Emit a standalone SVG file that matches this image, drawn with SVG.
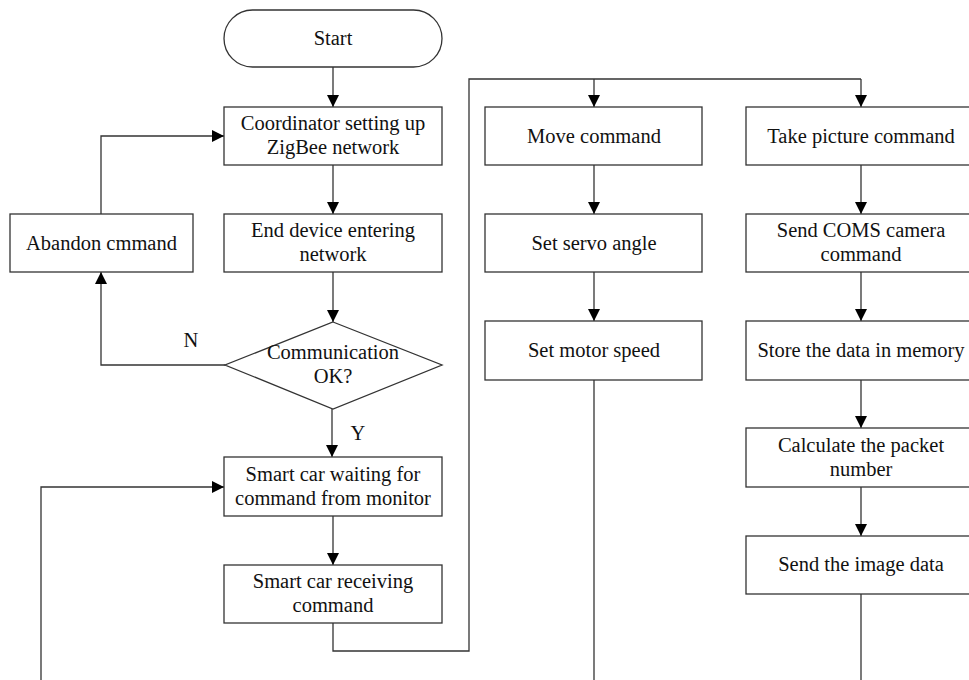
<svg xmlns="http://www.w3.org/2000/svg" width="969" height="680" viewBox="0 0 969 680">
<defs>
<marker id="ah" viewBox="0 0 12 12" refX="12" refY="6" markerWidth="12" markerHeight="12" markerUnits="userSpaceOnUse" orient="auto">
<path d="M0,0 L12,6 L0,12 Z" fill="#000"/>
</marker>
<style>
.b{fill:#fff;stroke:#333;stroke-width:1.3}
.c{fill:none;stroke:#333;stroke-width:1.3}
.a{marker-end:url(#ah)}
text{font-family:"Liberation Serif","Times New Roman",serif;font-size:20.5px;fill:#111;text-anchor:middle}
</style>
</defs>
<rect width="969" height="680" fill="#fff"/>
<g id="connectors">
<path class="c a" d="M333,67 V107"/>
<path class="c a" d="M333,165 V214"/>
<path class="c a" d="M333,272 V322"/>
<path class="c a" d="M225,365 H101 V272"/>
<path class="c a" d="M101,214 V136 H224"/>
<path class="c a" d="M332,409 V457"/>
<path class="c a" d="M333,516 V565"/>
<path class="c" d="M333,623 V651 H469 V79 H861"/>
<path class="c a" d="M594,79 V107"/>
<path class="c a" d="M861,79 V107"/>
<path class="c a" d="M594,165 V214"/>
<path class="c a" d="M594,272 V321"/>
<path class="c" d="M594,380 V680"/>
<path class="c a" d="M861,165 V214"/>
<path class="c a" d="M861,272 V321"/>
<path class="c a" d="M861,380 V428"/>
<path class="c a" d="M861,487 V536"/>
<path class="c" d="M861,594 V680"/>
<path class="c a" d="M41,680 V487 H224"/>
<text x="191" y="347">N</text>
<text x="358" y="440">Y</text>
</g>
<g id="start"><rect class="b" x="224" y="10" width="218" height="57" rx="28.5"/><text x="333" y="45">Start</text></g>
<g id="coordinator"><rect class="b" x="224" y="107" width="218" height="58"/><text x="333" y="130">Coordinator setting up</text><text x="333" y="154">ZigBee network</text></g>
<g id="enddevice"><rect class="b" x="224" y="214" width="218" height="58"/><text x="333" y="237">End device entering</text><text x="333" y="261">network</text></g>
<g id="abandon"><rect class="b" x="10" y="214" width="183" height="58"/><text x="101.5" y="250">Abandon cmmand</text></g>
<g id="decision"><path class="b" d="M333,322 L442,365 L333,409 L225,365 Z"/><text x="333" y="359">Communication</text><text x="333" y="383">OK?</text></g>
<g id="waiting"><rect class="b" x="224" y="457" width="218" height="59"/><text x="333" y="481">Smart car waiting for</text><text x="333" y="505">command from monitor</text></g>
<g id="receiving"><rect class="b" x="224" y="565" width="218" height="58"/><text x="333" y="588">Smart car receiving</text><text x="333" y="612">command</text></g>
<g id="move"><rect class="b" x="485" y="107" width="217" height="58"/><text x="594" y="143">Move command</text></g>
<g id="servo"><rect class="b" x="485" y="214" width="217" height="58"/><text x="594" y="250">Set servo angle</text></g>
<g id="motor"><rect class="b" x="485" y="321" width="217" height="59"/><text x="594" y="357">Set motor speed</text></g>
<g id="takepicture"><rect class="b" x="746" y="107" width="230" height="58"/><text x="861" y="143">Take picture command</text></g>
<g id="sendcoms"><rect class="b" x="746" y="214" width="230" height="58"/><text x="861" y="237">Send COMS camera</text><text x="861" y="261">command</text></g>
<g id="store"><rect class="b" x="746" y="321" width="230" height="59"/><text x="861" y="357">Store the data in memory</text></g>
<g id="calculate"><rect class="b" x="746" y="428" width="230" height="59"/><text x="861" y="452">Calculate the packet</text><text x="861" y="476">number</text></g>
<g id="sendimage"><rect class="b" x="746" y="536" width="230" height="58"/><text x="861" y="571">Send the image data</text></g>
</svg>
